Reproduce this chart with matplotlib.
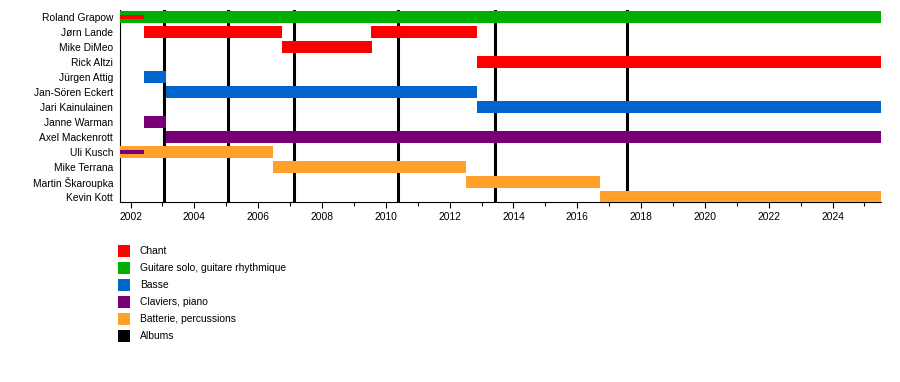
import matplotlib
matplotlib.use("Agg")
import matplotlib.pyplot as plt
from matplotlib.patches import Rectangle

plt.rcParams['font.family'] = ['Liberation Sans', 'DejaVu Sans']

members = ["Roland Grapow", "Jørn Lande", "Mike DiMeo", "Rick Altzi", "Jürgen Attig",
           "Jan-Sören Eckert", "Jari Kainulainen", "Janne Warman", "Axel Mackenrott",
           "Uli Kusch", "Mike Terrana", "Martin Škaroupka", "Kevin Kott"]

roles = ["Chant", "Guitare solo, guitare rhythmique", "Basse", "Claviers, piano",
         "Batterie, percussions", "Albums"]
role_colors = ["#ff0000", "#00b000", "#0066cc", "#770077", "#ffa02a", "#000000"]

start_year = 2001.67
end_year = 2025.52

# main bars: member, role, start, end
bar_member = ["Roland Grapow", "Jørn Lande", "Jørn Lande", "Mike DiMeo", "Rick Altzi",
              "Jürgen Attig", "Jan-Sören Eckert", "Jari Kainulainen", "Janne Warman",
              "Axel Mackenrott", "Uli Kusch", "Mike Terrana", "Martin Škaroupka", "Kevin Kott"]
bar_role = ["Guitare solo, guitare rhythmique", "Chant", "Chant", "Chant", "Chant",
            "Basse", "Basse", "Basse", "Claviers, piano", "Claviers, piano",
            "Batterie, percussions", "Batterie, percussions", "Batterie, percussions",
            "Batterie, percussions"]
bar_start = [2001.67, 2002.42, 2009.53, 2006.75, 2012.86, 2002.42, 2003.10, 2012.86,
             2002.42, 2003.10, 2001.67, 2006.45, 2012.51, 2016.71]
bar_end = [2025.52, 2006.76, 2012.86, 2009.56, 2025.52, 2003.10, 2012.86, 2025.52,
           2003.10, 2025.52, 2006.45, 2012.51, 2016.71, 2025.52]

# thin secondary bars
thin_member = ["Roland Grapow", "Uli Kusch"]
thin_role = ["Chant", "Claviers, piano"]
thin_start = [2001.67, 2001.67]
thin_end = [2002.42, 2002.42]

# albums
album_dates = [2003.05, 2005.06, 2007.13, 2010.39, 2013.42, 2017.56]

W, H = 900, 382
fig = plt.figure(figsize=(W / 100, H / 100), dpi=100)
ax = fig.add_axes([120 / W, 1 - 202 / H, (881 - 120) / W, (202 - 10) / H])

cmap = dict(zip(roles, role_colors))
row = {m: i for i, m in enumerate(members)}

ax.barh([row[m] for m in bar_member], [e - s for s, e in zip(bar_start, bar_end)],
        left=bar_start, height=0.8, color=[cmap[r] for r in bar_role], zorder=3,
        linewidth=0)
ax.barh([row[m] for m in thin_member], [e - s for s, e in zip(thin_start, thin_end)],
        left=thin_start, height=0.3, color=[cmap[r] for r in thin_role], zorder=4,
        linewidth=0)
for d in album_dates:
    ax.axvline(d, color="black", linewidth=2.2, zorder=2)

fs = 7.4
ax.set_xlim(start_year, end_year)
ax.set_ylim(12.33, -0.467)
ax.set_yticks(range(len(members)))
ax.set_yticklabels(members, fontsize=fs)
ax.tick_params(axis='y', length=0, pad=5)
ax.set_xticks(range(2002, 2025, 2))
ax.set_xticks(range(2003, 2026, 2), minor=True)
ax.tick_params(axis='x', which='major', length=4, width=0.8, labelsize=fs, pad=3)
ax.tick_params(axis='x', which='minor', length=3, width=0.8)
for s in ["top", "right"]:
    ax.spines[s].set_visible(False)
for s in ["left", "bottom"]:
    ax.spines[s].set_linewidth(0.8)

# legend
for i, (r, c) in enumerate(zip(roles, role_colors)):
    yc = 250.5 + 17.1 * i
    fig.add_artist(Rectangle((118 / W, 1 - (yc + 6) / H), 12 / W, 12 / H,
                             transform=fig.transFigure, color=c, linewidth=0))
    fig.text(140 / W, 1 - yc / H, r, fontsize=fs, va="center", ha="left")

fig.savefig("out.png", dpi=100)
